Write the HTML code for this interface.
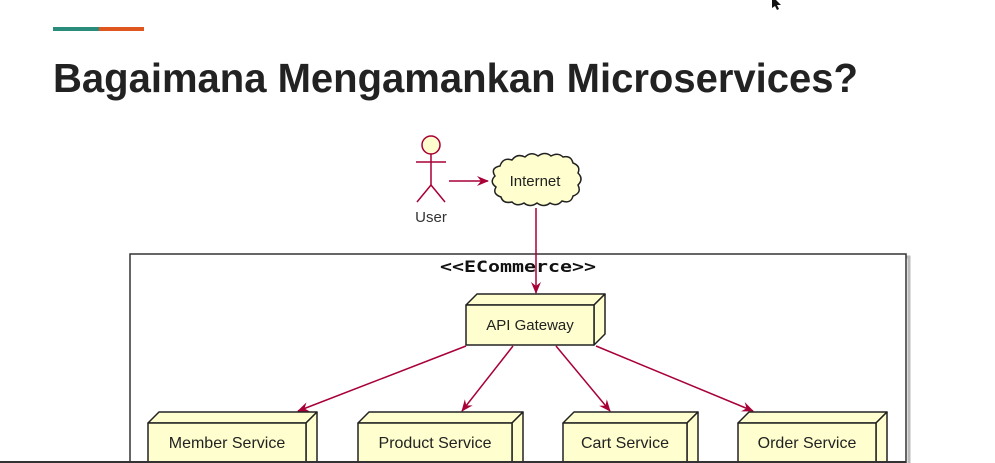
<!DOCTYPE html>
<html><head><meta charset="utf-8"><style>
html,body{margin:0;padding:0;background:#fff;width:995px;height:463px;overflow:hidden}
svg{display:block}
</style></head><body>
<svg width="995" height="463" viewBox="0 0 995 463" xmlns="http://www.w3.org/2000/svg" font-family="'Liberation Sans', 'DejaVu Sans', sans-serif">
<defs>
<marker id="ah" viewBox="0 0 12 10" refX="11" refY="5" markerWidth="12" markerHeight="10" markerUnits="userSpaceOnUse" orient="auto">
<path d="M0,0 L12,5 L0,10 L4,5 Z" fill="#a80036"/>
</marker>
</defs>
<rect x="53" y="27" width="46" height="4" fill="#2a8c7b"/>
<rect x="99" y="27" width="45" height="4" fill="#e0561f"/>
<text x="53" y="92" font-size="41" font-weight="bold" fill="#222" textLength="805" lengthAdjust="spacingAndGlyphs">Bagaimana Mengamankan Microservices?</text>
<path d="M772,0 L772,8 L775,6 L777,10 L779,9 L777,5 L781,5 L776,0 Z" fill="#111"/>

<rect x="133" y="257" width="776" height="210" fill="none" stroke="#bbb" stroke-width="3"/>
<rect x="130" y="254" width="776" height="212" fill="#fff" stroke="#333" stroke-width="1.5"/>
<text x="440" y="272" font-size="16" font-weight="bold" fill="#111" textLength="156" lengthAdjust="spacingAndGlyphs" font-family="'DejaVu Sans Mono','Liberation Mono',monospace">&lt;&lt;ECommerce&gt;&gt;</text>

<g stroke="#a80036" stroke-width="1.5" fill="none">
<circle cx="431" cy="145" r="9" fill="#fefece"/>
<line x1="431" y1="154" x2="431" y2="185"/>
<line x1="416" y1="162" x2="446" y2="162"/>
<line x1="431" y1="185" x2="417" y2="202"/>
<line x1="431" y1="185" x2="445" y2="202"/>
</g>
<text x="431" y="222" font-size="15" text-anchor="middle" fill="#333">User</text>
<line x1="449" y1="181" x2="488" y2="181" stroke="#a80036" stroke-width="1.5" marker-end="url(#ah)"/>

<path d="M500,166 q3,-9 12,-6 q5,-7 13,-3 q6,-6 13,-1 q7,-5 13,0 q7,-4 12,1 q8,-2 10,6 q8,3 5,10 q6,6 0,12 q4,8 -5,11 q-2,8 -11,5 q-5,6 -12,2 q-6,5 -13,0 q-7,5 -13,0 q-7,4 -12,-1 q-9,2 -11,-5 q-9,-3 -5,-10 q-7,-5 -1,-11 q-5,-8 5,-10 Z" fill="#fefece" stroke="#222" stroke-width="1.5"/>
<text x="535" y="186" font-size="15" text-anchor="middle" fill="#222">Internet</text>
<line x1="536" y1="208" x2="536" y2="293" stroke="#a80036" stroke-width="1.5" marker-end="url(#ah)"/>

<g stroke="#222" stroke-width="1.5" fill="#fefece" stroke-linejoin="round">
<path d="M466,305 L477,294 L605,294 L594,305 Z"/>
<path d="M594,305 L605,294 L605,334 L594,345 Z"/>
<rect x="466" y="305" width="128" height="40"/>
</g>
<text x="530" y="330" font-size="15" text-anchor="middle" fill="#222">API Gateway</text>

<g stroke="#a80036" stroke-width="1.5" marker-end="url(#ah)">
<line x1="466" y1="346" x2="298" y2="411"/>
<line x1="513" y1="346" x2="462" y2="411"/>
<line x1="556" y1="346" x2="610" y2="411"/>
<line x1="596" y1="346" x2="753" y2="411"/>
</g>

<g stroke="#222" stroke-width="1.5" fill="#fefece" stroke-linejoin="round">
<path d="M148,423 L159,412 L317,412 L306,423 Z"/><path d="M306,423 L317,412 L317,470 L306,470 Z"/><rect x="148" y="423" width="158" height="50"/>
<path d="M358,423 L369,412 L523,412 L512,423 Z"/><path d="M512,423 L523,412 L523,470 L512,470 Z"/><rect x="358" y="423" width="154" height="50"/>
<path d="M563,423 L574,412 L698,412 L687,423 Z"/><path d="M687,423 L698,412 L698,470 L687,470 Z"/><rect x="563" y="423" width="124" height="50"/>
<path d="M738,423 L749,412 L887,412 L876,423 Z"/><path d="M876,423 L887,412 L887,470 L876,470 Z"/><rect x="738" y="423" width="138" height="50"/>
</g>
<g font-size="16" text-anchor="middle" fill="#222">
<text x="227" y="448">Member Service</text>
<text x="435" y="448">Product Service</text>
<text x="625" y="448">Cart Service</text>
<text x="807" y="448">Order Service</text>
</g>
<rect x="0" y="461" width="906" height="2" fill="#333"/>
</svg>
</body></html>
